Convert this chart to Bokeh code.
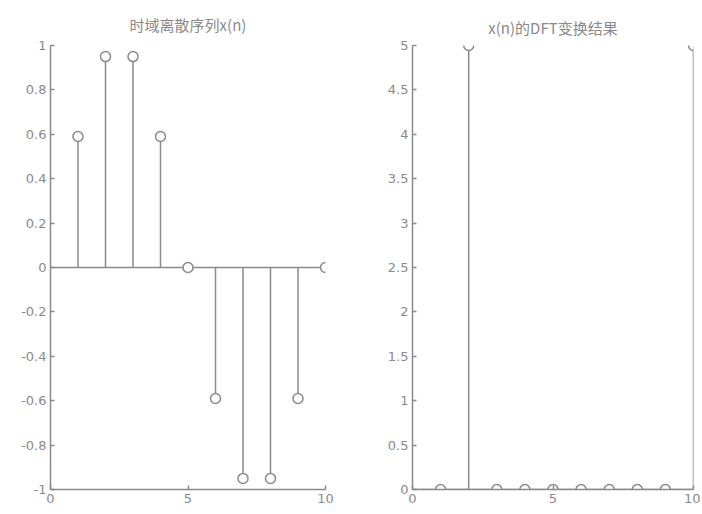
from bokeh.plotting import figure
from bokeh.layouts import row
from bokeh.models import FixedTicker, Range1d
from bokeh.embed import file_html
from bokeh.resources import INLINE

# ---- data ----
n = [1, 2, 3, 4, 5, 6, 7, 8, 9, 10]
x_vals = [0.59, 0.95, 0.95, 0.59, 0.0, -0.59, -0.95, -0.95, -0.59, 0.0]
dft_vals = [0, 5, 0, 0, 0, 0, 0, 0, 0, 5]

left_title = "时域离散序列x(n)"
right_title = "x(n)的DFT变换结果"

x_ticks = [0, 5, 10]
x_tick_labels = ["0", "5", "10"]
left_y_ticks = [-1, -0.8, -0.6, -0.4, -0.2, 0, 0.2, 0.4, 0.6, 0.8, 1]
left_y_labels = ["-1", "-0.8", "-0.6", "-0.4", "-0.2", "0", "0.2", "0.4", "0.6", "0.8", "1"]
right_y_ticks = [0, 0.5, 1, 1.5, 2, 2.5, 3, 3.5, 4, 4.5, 5]
right_y_labels = ["0", "0.5", "1", "1.5", "2", "2.5", "3", "3.5", "4", "4.5", "5"]

GRAY = "#8a8a8a"
TICK_FONT = "DejaVu Sans"
TITLE_FONT = "Noto Sans CJK SC"


def make_fig(width, height, x_range, y_range, title, borders, standoff):
    p = figure(width=width, height=height, x_range=Range1d(*x_range), y_range=Range1d(*y_range),
               output_backend="svg", toolbar_location=None, title=title,
               min_border_left=borders[0], min_border_right=borders[1],
               min_border_top=borders[2], min_border_bottom=borders[3])
    p.outline_line_color = None
    p.grid.visible = False
    p.background_fill_color = "white"
    p.border_fill_color = "white"
    p.title.align = "center"
    p.title.text_color = GRAY
    p.title.text_font = TITLE_FONT
    p.title.text_font_style = "normal"
    p.title.text_font_size = "15px"
    p.title.standoff = standoff
    for ax in (p.xaxis[0], p.yaxis[0]):
        ax.axis_line_color = GRAY
        ax.axis_line_width = 1.5
        ax.major_tick_line_color = GRAY
        ax.major_tick_line_width = 1.5
        ax.major_tick_in = 4
        ax.major_tick_out = 0
        ax.minor_tick_line_color = None
        ax.major_label_text_color = GRAY
        ax.major_label_text_font = TICK_FONT
        ax.major_label_text_font_size = "13px"
        ax.major_label_standoff = 4
    return p


def stem(p, xs, ys, x_span):
    p.segment(x0=[x_span[0]], y0=[0], x1=[x_span[1]], y1=[0], line_color=GRAY, line_width=1.5)
    p.segment(x0=xs, y0=[0] * len(xs), x1=xs, y1=ys, line_color=GRAY, line_width=1.5)
    p.scatter(xs, ys, marker="circle", size=10, line_color=GRAY, line_width=1.5, fill_color="white")


# left plot
p1 = make_fig(348, 512, (0, 10), (-1, 1), left_title, (50, 23, 42, 23), 22)
stem(p1, n, x_vals, (0, 10))
p1.xaxis[0].ticker = FixedTicker(ticks=x_ticks)
p1.xaxis[0].major_label_overrides = dict(zip(x_ticks, x_tick_labels))
p1.yaxis[0].ticker = FixedTicker(ticks=left_y_ticks)
p1.yaxis[0].major_label_overrides = dict(zip(left_y_ticks, left_y_labels))

# right plot
p2 = make_fig(352, 512, (0, 10), (0, 5), right_title, (64, 7, 45, 20), 16)
stem(p2, n, dft_vals, (0, 10))
p2.xaxis[0].ticker = FixedTicker(ticks=x_ticks)
p2.xaxis[0].major_label_overrides = dict(zip(x_ticks, x_tick_labels))
p2.yaxis[0].ticker = FixedTicker(ticks=right_y_ticks)
p2.yaxis[0].major_label_overrides = dict(zip(right_y_ticks, right_y_labels))

layout = row(p1, p2)
open("out.html", "w").write(file_html(layout, INLINE))
